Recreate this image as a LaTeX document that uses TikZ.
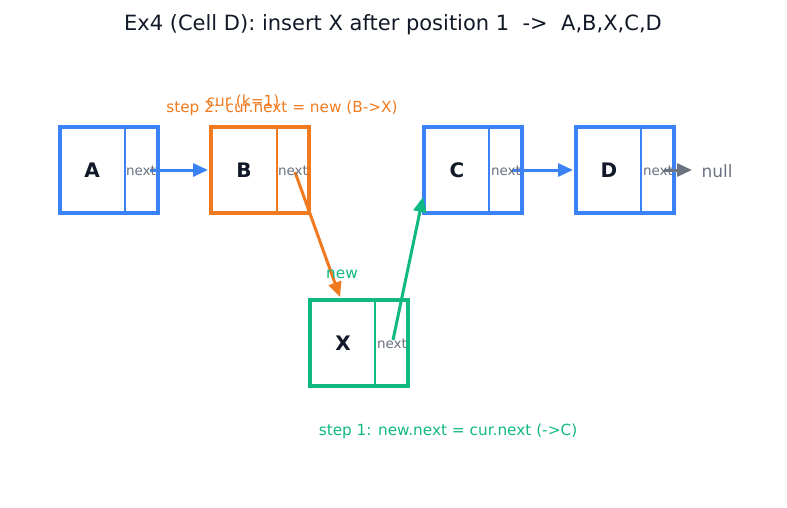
\documentclass[tikz,border=0pt]{standalone}
\usepackage{fontspec}
\setmainfont{DejaVu Sans}
\usetikzlibrary{arrows.meta}
\definecolor{cblue}{HTML}{3B82F6}
\definecolor{corange}{HTML}{F07A1F}
\definecolor{cgreen}{HTML}{10B981}
\definecolor{cgray}{HTML}{6B7280}
\definecolor{cdark}{HTML}{111827}
\begin{document}
\begin{tikzpicture}[x=1pt,y=-1pt,
  cell/.style={draw=#1, line width=3.8pt, fill=white, minimum width=98pt, minimum height=86pt, inner sep=0pt, outer sep=0pt, anchor=north west},
  lab/.style={font=\fontsize{20}{20}\selectfont\bfseries, text=cdark},
  nxt/.style={font=\fontsize{13.5}{13.5}\selectfont, text=cgray},
  arr/.style={draw=#1, line width=3pt, -{Triangle[length=15pt,width=13pt]}},
  note/.style={font=\fontsize{15.3}{15.3}\selectfont, text=#1},
]
\useasboundingbox (0,0) rectangle (787,508);
\node[font=\fontsize{21}{21}\selectfont, text=cdark] (title) at (393,25) {Ex4 (Cell D): insert X after position 1\ \ ->\ \ A,B,X,C,D};

% boxes
\node[cell=cblue] (A) at (60,127) {};
\node[cell=corange] (B) at (211,127) {};
\node[cell=cblue] (C) at (424,127) {};
\node[cell=cblue] (D) at (576,127) {};
\node[cell=cgreen] (X) at (310,300) {};

\draw[cblue, line width=2pt] (125,127) -- (125,213);
\draw[corange, line width=2pt] (277,127) -- (277,213);
\draw[cblue, line width=2pt] (489,127) -- (489,213);
\draw[cblue, line width=2pt] (641,127) -- (641,213);
\draw[cgreen, line width=2pt] (375,300) -- (375,386);

\node[lab] (lA) at (92,170) {A};
\node[lab] (lB) at (244,170) {B};
\node[lab] (lC) at (457,170) {C};
\node[lab] (lD) at (609,170) {D};
\node[lab] (lX) at (343,343) {X};

\coordinate (nA) at (150,170);
\coordinate (nB) at (295,172);
\coordinate (nC) at (512,170);
\coordinate (nD) at (664,170);
\coordinate (nX) at (393,340);
\coordinate (Bin) at (208,170);
\coordinate (Din) at (573,170);
\coordinate (Xin) at (340,297);
\coordinate (Cin) at (423,197);
\coordinate (nullend) at (692,170);

\draw[arr=cblue] (nA) -- (Bin);
\draw[arr=cblue] (nC) -- (Din);
\draw[arr=cgray] (nD) -- (nullend);
\draw[arr=corange] (nB) -- (Xin);
\draw[arr=cgreen] (nX) -- (Cin);

\node[nxt] (tA) at (141,171) {next};
\node[nxt] (tB) at (293,171) {next};
\node[nxt] (tC) at (506,171) {next};
\node[nxt] (tD) at (658,171) {next};
\node[nxt] (tX) at (392,344) {next};

\node[font=\fontsize{17}{17}\selectfont, text=cgray] (null) at (717,171) {null};

\node[note=corange] (cur) at (243,102) {cur (k=1)};
\node[note=corange] (s2) at (282,108) {step 2: cur.next = new (B->X)};
\node[note=cgreen] (new) at (342,274) {new};
\node[note=cgreen] (s1) at (448,431) {step 1: new.next = cur.next (->C)};
\end{tikzpicture}
\end{document}
